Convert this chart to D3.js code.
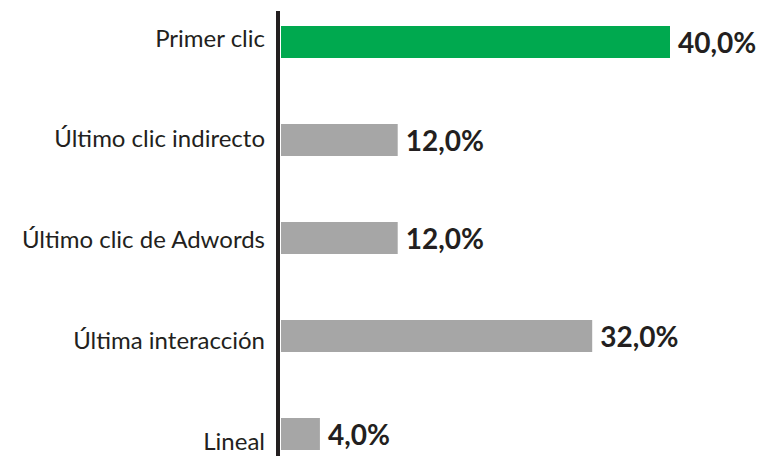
<!DOCTYPE html>
<html>
<head>
<meta charset="utf-8">
<script src="https://cdn.jsdelivr.net/npm/d3@7"></script>
<style>
  html, body { margin: 0; padding: 0; background: #fff; }
  svg { display: block; }
</style>
</head>
<body>
<svg id="chart" width="764" height="456"></svg>
<script>
// Attribution model shares
const categories = ["Primer clic", "Último clic indirecto", "Último clic de Adwords", "Última interacción", "Lineal"];
const values = [40, 12, 12, 32, 4];
const highlight = ["Primer clic"];

const W = 764, H = 456;
const svg = d3.select("#chart");

const x = d3.scaleLinear().domain([0, 40]).range([281, 670]);
const step = 98, bw = 32;
const y = d3.scaleBand()
  .domain(categories)
  .range([26 - (step - bw) / 2, 26 - (step - bw) / 2 + step * categories.length])
  .paddingInner((step - bw) / step)
  .paddingOuter((step - bw) / step / 2);

// category labels sit on a slightly wider spacing than the bars
const yLabel = d3.scalePoint()
  .domain(categories)
  .range([46, 449]);

const fmt = v => d3.format(".1f")(v).replace(".", ",") + "%";
const font = "Lato, 'Open Sans', sans-serif";

const rows = categories.map((c, i) => ({ cat: c, val: values[i] }));

// bars
svg.append("g").selectAll("rect").data(rows).join("rect")
  .attr("x", x(0))
  .attr("y", d => y(d.cat))
  .attr("width", d => x(d.val) - x(0))
  .attr("height", y.bandwidth())
  .attr("fill", d => highlight.includes(d.cat) ? "#00a94f" : "#a6a6a6");

// value labels
svg.append("g").selectAll("text").data(rows).join("text")
  .attr("x", d => x(d.val) + 8)
  .attr("y", d => y(d.cat) + y.bandwidth() / 2 + 11)
  .attr("font-family", font)
  .attr("font-weight", "bold")
  .attr("font-size", 28)
  .attr("fill", "#231f20")
  .text(d => fmt(d.val));

// category axis
const axis = d3.axisLeft(yLabel).tickSize(0).tickPadding(13);
const g = svg.append("g")
  .attr("transform", `translate(${x(0) - 3},0)`)
  .call(axis);
g.select(".domain").remove();
g.selectAll("text")
  .attr("font-family", font)
  .attr("font-size", 24)
  .attr("fill", "#231f20")
  .attr("dy", 0);

// vertical axis line
svg.append("line")
  .attr("x1", x(0) - 3).attr("x2", x(0) - 3)
  .attr("y1", 11).attr("y2", H)
  .attr("stroke", "#231f20")
  .attr("stroke-width", 4);
</script>
</body>
</html>
